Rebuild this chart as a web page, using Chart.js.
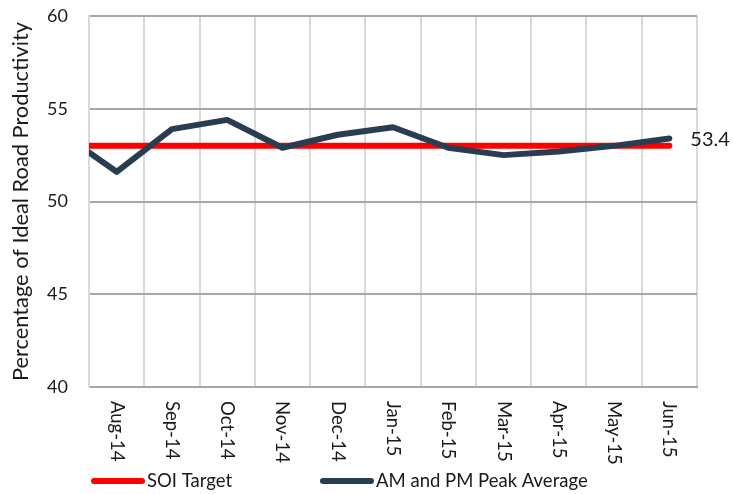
<!DOCTYPE html>
<html>
<head>
<meta charset="utf-8">
<script src="https://cdn.jsdelivr.net/npm/chart.js@4/dist/chart.umd.min.js"></script>
<style>
  html, body { margin: 0; padding: 0; background: #fff; }
  #wrap { width: 733px; height: 494px; position: relative; }
</style>
</head>
<body>
<div id="wrap"><canvas id="c" width="733" height="494"></canvas></div>
<script>
// ---- data ----
const categories = ['Jul-14','Aug-14','Sep-14','Oct-14','Nov-14','Dec-14','Jan-15','Feb-15','Mar-15','Apr-15','May-15','Jun-15'];
const firstShown = 'Aug-14';
const soiTarget = [53, 53, 53, 53, 53, 53, 53, 53, 53, 53, 53, 53];
const peakAverage = [53.7, 51.6, 53.9, 54.4, 52.9, 53.6, 54.0, 52.9, 52.5, 52.7, 53.0, 53.4];
const seriesNames = ['SOI Target', 'AM and PM Peak Average'];
const yTicks = [40, 45, 50, 55, 60];
const yTitle = 'Percentage of Ideal Road Productivity';

const FONT = 'Lato';
const RED = '#ff0000';
const DARK = '#293d52';
const TEXT = '#1a1a1a';

const xLabelsPlugin = {
  id: 'xLabels',
  afterDraw(chart) {
    const ctx = chart.ctx;
    const xs = chart.scales.x;
    ctx.save();
    ctx.font = '18.5px ' + FONT;
    ctx.fillStyle = TEXT;
    ctx.textAlign = 'left';
    ctx.textBaseline = 'middle';
    xs.ticks.forEach(t => {
      const px = xs.getPixelForValue(t.value);
      ctx.save();
      ctx.translate(px, xs.top + 14);
      ctx.rotate(Math.PI / 2);
      ctx.fillText(categories[t.value], 0, 0);
      ctx.restore();
    });
    ctx.restore();
  }
};

const endLabelPlugin = {
  id: 'endLabel',
  afterDatasetsDraw(chart) {
    const meta = chart.getDatasetMeta(1);
    const pt = meta.data[meta.data.length - 1];
    const ctx = chart.ctx;
    ctx.save();
    ctx.font = '20px ' + FONT;
    ctx.fillStyle = TEXT;
    ctx.textAlign = 'left';
    ctx.textBaseline = 'middle';
    ctx.fillText(String(peakAverage[peakAverage.length - 1]), pt.x + 21, pt.y + 1);
    ctx.restore();
  }
};

const legendPlugin = {
  id: 'customLegend',
  afterDraw(chart) {
    const ctx = chart.ctx;
    const items = [
      { x: 94, color: RED, text: seriesNames[0] },
      { x: 323, color: DARK, text: seriesNames[1] }
    ];
    const y = 481;
    ctx.save();
    ctx.font = '18.5px ' + FONT;
    ctx.textBaseline = 'middle';
    ctx.textAlign = 'left';
    items.forEach(it => {
      ctx.strokeStyle = it.color;
      ctx.lineWidth = 6;
      ctx.lineCap = 'round';
      ctx.beginPath();
      ctx.moveTo(it.x, y);
      ctx.lineTo(it.x + 48, y);
      ctx.stroke();
      ctx.fillStyle = TEXT;
      ctx.fillText(it.text, it.x + 53, y);
    });
    ctx.restore();
  }
};

new Chart(document.getElementById('c'), {
  type: 'line',
  data: {
    labels: categories,
    datasets: [
      {
        label: seriesNames[0],
        data: soiTarget,
        borderColor: RED,
        backgroundColor: RED,
        borderWidth: 6,
        pointRadius: 0,
        borderCapStyle: 'round',
        borderJoinStyle: 'round',
        clip: 0,
        order: 2
      },
      {
        label: seriesNames[1],
        data: peakAverage,
        borderColor: DARK,
        backgroundColor: DARK,
        borderWidth: 6,
        pointRadius: 0,
        borderCapStyle: 'round',
        borderJoinStyle: 'round',
        clip: 0,
        order: 1
      }
    ]
  },
  options: {
    responsive: false,
    animation: false,
    devicePixelRatio: 1,
    layout: { padding: { top: 16, right: 36, bottom: 0, left: 0 } },
    plugins: {
      legend: { display: false },
      tooltip: { enabled: false }
    },
    scales: {
      x: {
        type: 'category',
        min: firstShown,
        offset: true,
        grid: { offset: true, color: '#d9d9d9', lineWidth: 2, drawTicks: false },
        border: { color: '#a6a6a6', width: 2 },
        ticks: { display: false },
        afterFit(s) { s.height = 107; s.paddingLeft = 0; s.paddingRight = 0; }
      },
      y: {
        min: yTicks[0],
        max: yTicks[yTicks.length - 1],
        afterBuildTicks(s) { s.ticks = yTicks.map(v => ({ value: v })); },
        grid: { color: '#a6a6a6', lineWidth: 2, drawTicks: false },
        border: { color: '#d9d9d9', width: 2 },
        ticks: {
          padding: 21,
          color: TEXT,
          font: { family: FONT, size: 18 }
        },
        title: {
          display: true,
          text: yTitle,
          color: TEXT,
          font: { family: FONT, size: 21.8 },
          padding: { top: 8, bottom: 0 }
        },
        afterFit(s) { s.width = 89; s.paddingTop = 0; s.paddingBottom = 0; }
      }
    }
  },
  plugins: [xLabelsPlugin, endLabelPlugin, legendPlugin]
});
</script>
</body>
</html>
